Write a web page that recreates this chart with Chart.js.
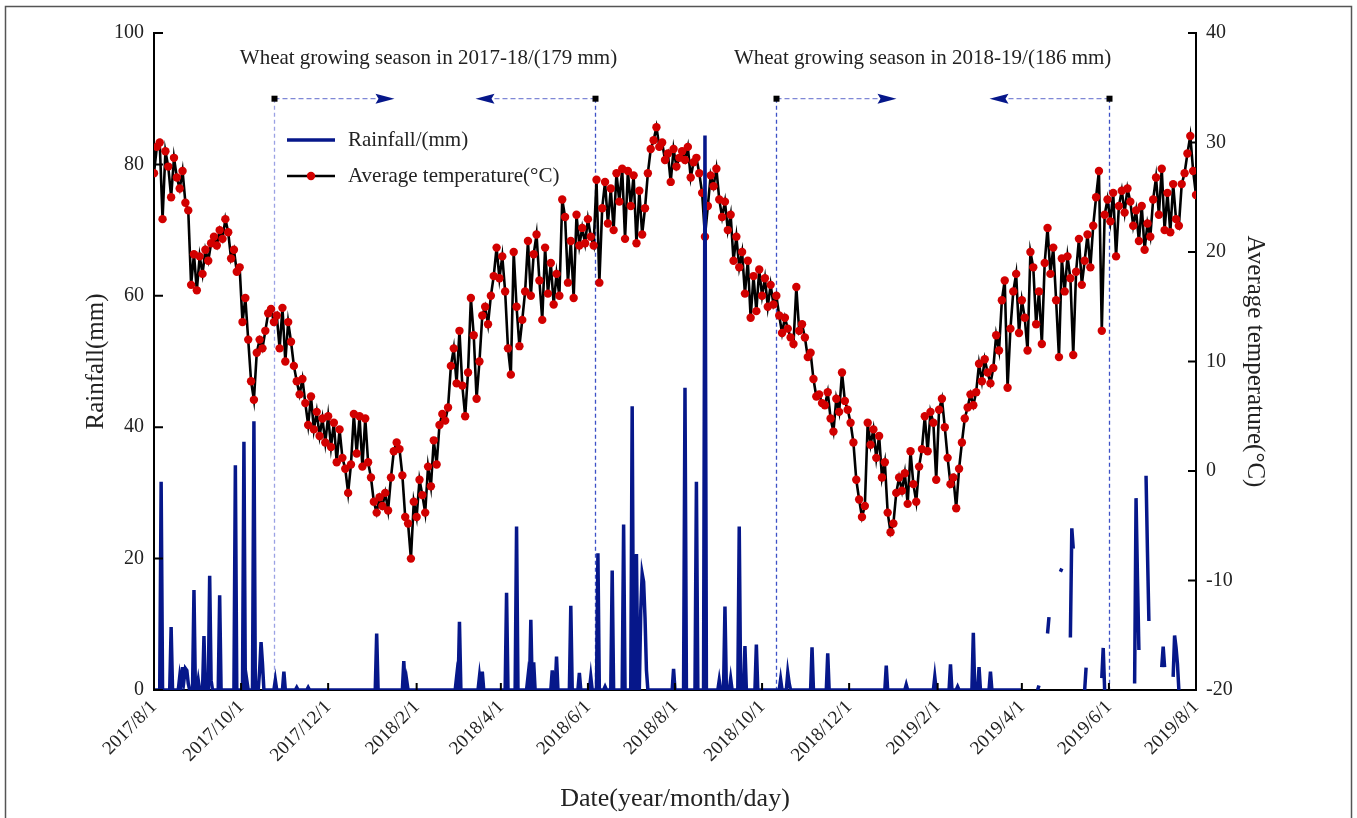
<!DOCTYPE html>
<html>
<head>
<meta charset="utf-8">
<script src="https://cdn.jsdelivr.net/npm/chart.js@4.4.1/dist/chart.umd.min.js"></script>
<style>html,body{margin:0;padding:0;background:#fff}canvas{display:block}</style>
</head>
<body>
<canvas id="c" width="1357" height="818"></canvas>
<script>
// ---------- data (day 0 = 2017/8/1) ----------
const tickDays = [0, 61, 122, 184, 243, 304, 365, 426, 487, 549, 608, 669, 730];
const tickLabels = ['2017/8/1','2017/10/1','2017/12/1','2018/2/1','2018/4/1','2018/6/1','2018/8/1','2018/10/1','2018/12/1','2019/2/1','2019/4/1','2019/6/1','2019/8/1'];

// average temperature (°C), one reading every 2 days from 2017/8/1
const tempStepDays = 2;
const tempAvg = [
27.2,29.6,30.0,23.0,29.2,27.8,25.0,28.6,26.8,25.8,
27.4,24.5,23.8,17.0,19.8,16.5,19.6,18.0,20.2,19.2,
20.8,21.4,20.6,22.0,21.2,23.0,21.8,19.4,20.2,18.2,
18.6,13.6,15.8,12.0,8.2,6.5,10.8,12.0,11.2,12.8,
14.4,14.8,13.6,14.2,11.2,14.9,10.0,13.6,11.8,9.6,
8.2,7.0,8.4,6.2,4.2,6.8,3.8,5.4,3.2,4.8,
2.6,5.0,2.2,4.4,0.8,3.8,1.2,0.2,-2.0,0.6,
5.2,1.6,5.0,0.4,4.8,0.8,-0.6,-2.8,-3.8,-2.4,
-3.2,-2.0,-3.6,-0.6,1.8,2.6,2.0,-0.4,-4.2,-4.8,
-8.0,-2.8,-4.2,-0.8,-2.2,-3.8,0.4,-1.4,2.8,0.6,
4.2,5.2,4.6,5.8,9.6,11.2,8.0,12.8,7.8,5.0,
9.0,15.8,12.4,6.6,10.0,14.2,15.0,13.4,16.0,17.8,
20.4,17.6,19.6,16.4,11.2,8.8,20.0,15.0,11.4,13.8,
16.4,21.0,16.0,19.8,21.6,17.4,13.8,20.4,16.2,19.0,
15.2,18.0,16.0,24.8,23.2,17.2,21.0,15.8,23.4,20.6,
22.2,20.8,23.0,21.4,20.6,26.6,17.2,24.0,26.4,22.6,
25.8,22.0,27.2,24.6,27.6,21.2,27.4,24.2,27.0,20.8,
25.6,21.6,24.0,27.2,29.4,30.2,31.4,29.6,30.0,28.4,
29.0,26.4,29.4,27.8,28.6,29.2,28.4,29.6,26.8,28.2,
28.6,27.2,25.4,21.4,24.2,27.0,26.0,27.6,24.8,23.2,
24.6,22.0,23.4,19.2,21.4,18.6,20.0,16.2,19.2,14.0,
17.8,14.6,18.4,16.0,17.6,15.0,17.0,15.2,16.0,14.2,
12.6,14.0,13.0,12.2,11.6,16.8,12.8,13.4,12.2,10.4,
10.8,8.4,6.8,7.0,6.2,6.0,7.2,4.8,3.6,6.6,
5.4,9.0,6.4,5.6,4.4,2.6,-0.8,-2.6,-4.2,-3.2,
4.4,2.4,3.8,1.2,3.2,-0.6,0.8,-3.8,-5.6,-4.8,
-2.0,-0.6,-1.8,-0.2,-3.0,1.8,-1.2,-2.8,0.4,2.0,
5.0,1.8,5.4,4.4,-0.8,5.6,6.6,4.0,1.2,-1.2,
-0.6,-3.4,0.2,2.6,4.8,5.8,7.0,6.0,7.2,9.8,
8.2,10.2,9.0,8.0,9.4,12.4,11.0,15.6,17.4,7.6,
13.0,16.4,18.0,12.6,15.6,14.0,11.0,20.0,18.6,13.4,
16.4,11.6,19.0,22.2,18.0,20.4,15.6,10.4,19.4,16.4,
19.6,17.6,10.6,18.2,21.2,17.0,19.2,21.6,18.6,22.4,
25.0,27.4,12.8,23.4,24.8,22.8,25.4,19.6,24.2,25.6,
23.6,25.8,24.6,22.4,23.8,21.0,24.2,20.2,22.6,21.4,
24.8,26.8,23.4,27.6,22.0,25.4,21.8,26.2,23.0,22.4,
26.2,27.2,29.0,30.6,27.4,25.2
];

// rainfall (mm): complete daily record up to 2019/4/1, rain days listed, other days 0
const lastCompleteDay = 608;
const rainDays = [5,12,18,19,20,21,22,23,24,28,31,35,39,40,46,57,63,65,70,74,75,76,85,91,100,108,156,175,177,212,214,228,230,247,254,262,264,266,279,282,292,298,306,311,316,321,329,335,338,341,342,343,344,345,364,372,380,386,396,400,404,410,414,422,439,444,445,461,472,513,527,547,558,563,574,578,586];
const rainMm   = [31.7,9.6,2.0,0.5,3.5,1.5,3.3,3.0,1.0,15.2,1.5,8.2,17.4,1.5,14.4,34.2,37.8,1.5,40.9,3.0,7.3,4.0,1.5,2.8,0.4,0.4,8.6,4.4,1.5,2.0,10.4,2.0,2.8,14.8,24.9,2.0,10.7,4.2,3.0,5.1,12.8,2.6,2.0,20.8,0.5,18.2,25.2,43.2,20.7,12.0,17.7,16.5,11.0,3.0,3.2,46.0,31.7,84.4,1.5,12.7,1.7,24.9,6.7,6.9,1.6,2.6,1.0,6.5,5.6,3.7,0.8,2.0,3.9,0.5,8.7,3.5,2.8];
// after 2019/4/1 only these days were recorded (others missing)
const rainPartialDays = [619,620,626,627,635,636,642,643,644,652,653,664,665,666,687,688,689,690,695,696,697,706,707,708,714,715,716,717,718];
const rainPartialMm   = [0,0.7,8.6,11.1,18.0,18.5,8.0,24.6,21.5,0,3.4,1.8,6.4,0,1.0,29.2,17.0,6.1,32.6,21.0,10.5,3.5,6.6,3.5,2.0,8.3,6.5,4.0,0];
const totalDays = 730;

// wheat growing seasons
const seasonStartDays = [84, 436];
const seasonEndDays = [309, 669];
const seasonNames = ['2017-18', '2018-19'];
const seasonRainMm = [179, 186];

// ---------- build datasets ----------
const rainMap = new Map();
rainDays.forEach((d, i) => rainMap.set(d, rainMm[i]));
rainPartialDays.forEach((d, i) => rainMap.set(d, rainPartialMm[i]));
const rainData = [];
for (let d = 0; d <= totalDays; d++) {
  let v = rainMap.has(d) ? rainMap.get(d) : (d <= lastCompleteDay ? 0 : null);
  rainData.push({x: d, y: v});
}
const tempData = tempAvg.map((v, i) => ({x: i * tempStepDays, y: v}));

const FONT = "'Liberation Serif', 'Times New Roman', serif";
const NAVY = '#06178a';
const TXT = '#222';

const decor = {
  id: 'decor',
  beforeDraw(chart) {
    const ctx = chart.ctx;
    ctx.save();
    ctx.fillStyle = '#fff';
    ctx.fillRect(0, 0, chart.width, chart.height);
    ctx.strokeStyle = '#555';
    ctx.lineWidth = 1.5;
    ctx.strokeRect(5.5, 6.5, 1346, 900);
    ctx.restore();
  },
  beforeDatasetsDraw(chart) {
    const {ctx, chartArea: ca, scales: {x, yL}} = chart;
    const yTop = yL.getPixelForValue(90);
    const arrowLen = 120, headLen = 19, headHalf = 5;
    const vColors = [['#9aa1e4', '#3d51c6'], ['#3d51c6', '#3d51c6']];
    const hColor = '#7f88d6';
    ctx.save();
    seasonStartDays.forEach((sd, i) => {
      const xs = Math.round(x.getPixelForValue(sd)) + 0.5;
      const xe = Math.round(x.getPixelForValue(seasonEndDays[i])) + 0.5;
      [[xs, vColors[i][0]], [xe, vColors[i][1]]].forEach(([px, col]) => {
        ctx.setLineDash([4, 3]);
        ctx.strokeStyle = col;
        ctx.lineWidth = 1.3;
        ctx.beginPath(); ctx.moveTo(px, yTop); ctx.lineTo(px, ca.bottom); ctx.stroke();
      });
      ctx.setLineDash([5, 3]);
      ctx.strokeStyle = hColor;
      ctx.lineWidth = 1.3;
      ctx.beginPath();
      ctx.moveTo(xs, yTop); ctx.lineTo(xs + arrowLen - headLen, yTop);
      ctx.moveTo(xe, yTop); ctx.lineTo(xe - arrowLen + headLen, yTop);
      ctx.stroke();
      ctx.setLineDash([]);
      ctx.fillStyle = NAVY;
      ctx.beginPath();
      ctx.moveTo(xs + arrowLen, yTop);
      ctx.lineTo(xs + arrowLen - headLen, yTop - headHalf);
      ctx.lineTo(xs + arrowLen - headLen + 3, yTop);
      ctx.lineTo(xs + arrowLen - headLen, yTop + headHalf);
      ctx.closePath(); ctx.fill();
      ctx.beginPath();
      ctx.moveTo(xe - arrowLen, yTop);
      ctx.lineTo(xe - arrowLen + headLen, yTop - headHalf);
      ctx.lineTo(xe - arrowLen + headLen - 3, yTop);
      ctx.lineTo(xe - arrowLen + headLen, yTop + headHalf);
      ctx.closePath(); ctx.fill();
      ctx.fillStyle = '#000';
      ctx.fillRect(xs - 3, yTop - 3, 6, 6);
      ctx.fillRect(xe - 3, yTop - 3, 6, 6);
    });
    ctx.restore();
  },
  afterDraw(chart) {
    const {ctx, chartArea: ca, scales: {x, yL, yR}} = chart;
    ctx.save();
    ctx.strokeStyle = '#000';
    ctx.lineWidth = 2;
    ctx.beginPath();
    yL.ticks.forEach(t => { const y = yL.getPixelForValue(t.value); ctx.moveTo(ca.left, y); ctx.lineTo(ca.left + 9, y); });
    yR.ticks.forEach(t => { const y = yR.getPixelForValue(t.value); ctx.moveTo(ca.right, y); ctx.lineTo(ca.right - 8, y); });
    x.ticks.forEach(t => { const px = x.getPixelForValue(t.value); ctx.moveTo(px, ca.bottom); ctx.lineTo(px, ca.bottom - 7); });
    ctx.stroke();

    const yTop = yL.getPixelForValue(90);
    const textShift = [-6, -20];
    ctx.fillStyle = TXT;
    ctx.font = '21px ' + FONT;
    ctx.textAlign = 'center';
    ctx.textBaseline = 'middle';
    seasonStartDays.forEach((sd, i) => {
      const mid = (x.getPixelForValue(sd) + x.getPixelForValue(seasonEndDays[i])) / 2;
      ctx.fillText('Wheat growing season in ' + seasonNames[i] + '/(' + seasonRainMm[i] + ' mm)', mid + textShift[i], yTop - 40);
    });

    const lx = ca.left + 133, ly1 = ca.top + 107, ly2 = ca.top + 143;
    ctx.lineWidth = 3.5;
    ctx.strokeStyle = NAVY;
    ctx.beginPath(); ctx.moveTo(lx, ly1); ctx.lineTo(lx + 48, ly1); ctx.stroke();
    ctx.strokeStyle = '#000';
    ctx.lineWidth = 2.5;
    ctx.beginPath(); ctx.moveTo(lx, ly2); ctx.lineTo(lx + 48, ly2); ctx.stroke();
    ctx.fillStyle = '#d20000';
    ctx.beginPath(); ctx.arc(lx + 24, ly2, 4.2, 0, Math.PI * 2); ctx.fill();
    ctx.fillStyle = TXT;
    ctx.font = '21px ' + FONT;
    ctx.textAlign = 'left';
    ctx.fillText('Rainfall/(mm)', lx + 61, ly1);
    ctx.fillText('Average temperature(°C)', lx + 61, ly2);
    ctx.restore();
  }
};

new Chart(document.getElementById('c'), {
  type: 'line',
  data: {
    datasets: [
      {
        label: 'Rainfall/(mm)',
        data: rainData,
        yAxisID: 'yL',
        borderColor: NAVY,
        borderWidth: 3.5,
        pointRadius: 0,
        tension: 0,
        spanGaps: false
      },
      {
        label: 'Average temperature(°C)',
        data: tempData,
        yAxisID: 'yR',
        borderColor: '#000',
        borderWidth: 2.6,
        pointRadius: 4.2,
        pointBackgroundColor: '#d20000',
        pointBorderWidth: 0,
        pointBorderColor: '#d20000',
        tension: 0
      }
    ]
  },
  options: {
    responsive: false,
    devicePixelRatio: 1,
    animation: false,
    events: [],
    layout: {padding: {left: 81, right: 87, top: 33, bottom: 3}},
    plugins: {legend: {display: false}, tooltip: {enabled: false}},
    scales: {
      x: {
        type: 'linear',
        min: 0, max: totalDays,
        afterBuildTicks: (s) => { s.ticks = tickDays.map(v => ({value: v})); },
        afterFit: (s) => { s.height = 125; },
        grid: {display: false, drawTicks: false},
        border: {display: true, color: '#000', width: 2},
        ticks: {
          autoSkip: false, minRotation: 45, maxRotation: 45, padding: 6,
          color: TXT, font: {family: FONT, size: 19},
          callback: (v, i) => tickLabels[i]
        },
        title: {display: true, text: 'Date(year/month/day)', color: TXT, font: {family: FONT, size: 26}, padding: 0}
      },
      yL: {
        type: 'linear', position: 'left',
        min: 0, max: 100,
        afterFit: (s) => { s.width = 73; },
        grid: {display: false, drawTicks: false},
        border: {display: true, color: '#000', width: 2},
        ticks: {stepSize: 20, padding: 10, color: TXT, font: {family: FONT, size: 20}},
        title: {display: true, text: 'Rainfall(mm)', color: TXT, font: {family: FONT, size: 25}, padding: 0}
      },
      yR: {
        type: 'linear', position: 'right',
        min: -20, max: 40,
        afterFit: (s) => { s.width = 74; },
        grid: {display: false, drawTicks: false},
        border: {display: true, color: '#000', width: 2},
        ticks: {stepSize: 10, padding: 10, color: TXT, font: {family: FONT, size: 20}},
        title: {display: true, text: 'Average temperature(°C)', color: TXT, font: {family: FONT, size: 25}, padding: 0}
      }
    }
  },
  plugins: [decor]
});
</script>
</body>
</html>
